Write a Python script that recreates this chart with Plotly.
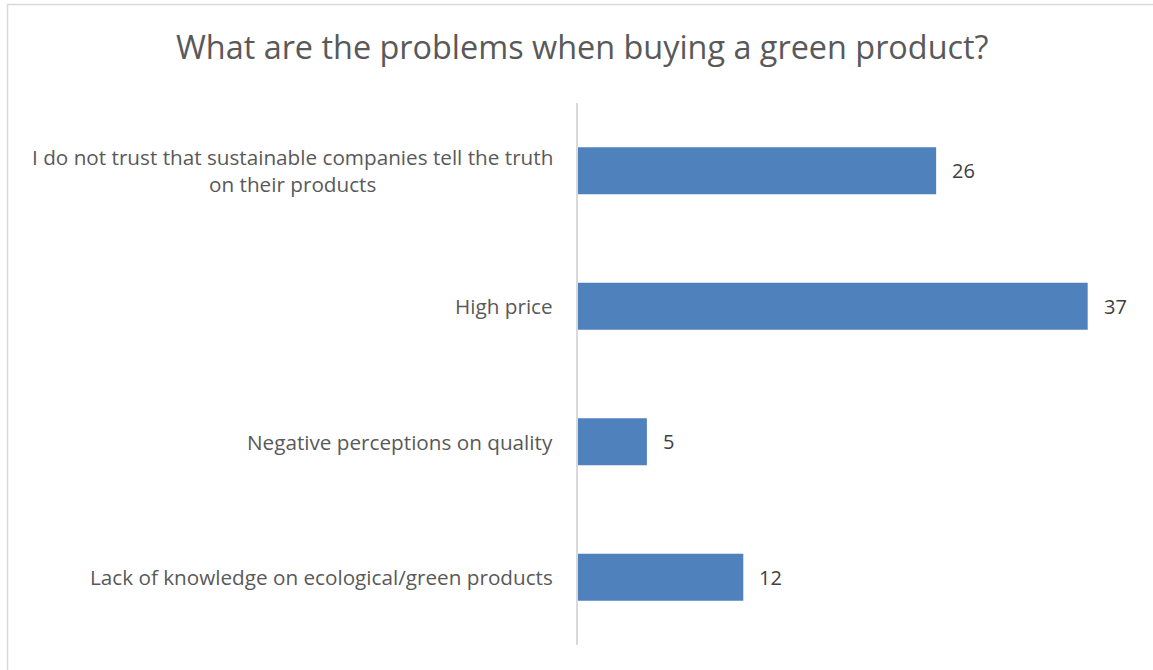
import plotly.graph_objects as go

categories = [
    "I do not trust that sustainable companies tell the truth<br>on their products",
    "High price",
    "Negative perceptions on quality",
    "Lack of knowledge on ecological/green products",
]
values = [26, 37, 5, 12]
title_text = "What are the problems when buying a green product?"

W, H = 1153, 670
L, R, T, B = 578, 24, 103, 25
pw, ph = W - L - R, H - T - B

def px_x(px):
    return (px - L) / pw

def px_y(py):
    return (H - B - py) / ph

FONT = "Open Sans, Calibri, sans-serif"

fig = go.Figure(
    go.Bar(
        x=values,
        y=categories,
        orientation="h",
        marker=dict(color="#4F81BD", line=dict(width=0)),
        width=0.347,
        hoverinfo="x+y",
    )
)

annotations = []
for c in categories:
    annotations.append(
        dict(
            x=0, xref="paper", y=c, yref="y",
            text=c, showarrow=False, xanchor="right", yanchor="middle",
            align="center", xshift=-23,
            font=dict(family=FONT, size=20.7, color="#595959"),
        )
    )
for c, v in zip(categories, values):
    annotations.append(
        dict(
            x=v, xref="x", y=c, yref="y",
            text=str(v), showarrow=False, xanchor="left", yanchor="middle",
            xshift=14,
            font=dict(family=FONT, size=20, color="#404040"),
        )
    )

fig.update_layout(
    width=W, height=H,
    margin=dict(l=L, r=R, t=T, b=B),
    paper_bgcolor="white", plot_bgcolor="white",
    showlegend=False,
    title=dict(
        text=title_text, x=0.505, xref="container", xanchor="center",
        y=1 - 48 / H, yref="container", yanchor="middle",
        font=dict(family=FONT, size=32.4, color="#595959"),
    ),
    xaxis=dict(range=[0, 40], visible=False, showgrid=False, zeroline=False),
    yaxis=dict(
        autorange="reversed", showticklabels=False, showgrid=False,
        zeroline=False, showline=True, linecolor="#D9D9D9", linewidth=2,
        ticks="",
    ),
    annotations=annotations,
    shapes=[
        dict(
            type="rect", xref="paper", yref="paper",
            x0=px_x(7.5), x1=px_x(1165), y0=px_y(685), y1=px_y(4.5),
            line=dict(color="#D9D9D9", width=1.5), fillcolor="rgba(0,0,0,0)",
            layer="below",
        )
    ],
)

fig.write_html("out.html")
